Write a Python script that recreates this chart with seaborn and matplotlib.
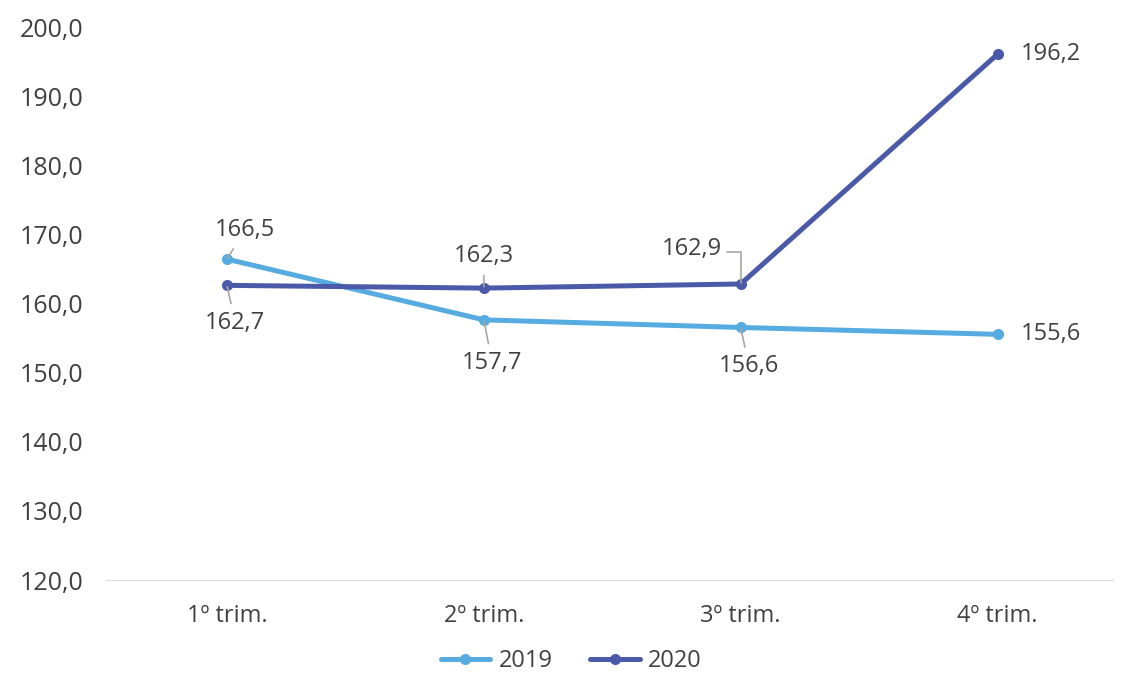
import pandas as pd
import matplotlib.pyplot as plt
import matplotlib.ticker as mticker
import seaborn as sns

# Dados
trimestres = ['1º trim.', '2º trim.', '3º trim.', '4º trim.']
valores_2019 = [166.5, 157.7, 156.6, 155.6]
valores_2020 = [162.7, 162.3, 162.9, 196.2]
anos = ['2019', '2020']
cores = {'2019': '#56ACE0', '2020': '#4A5AA8'}

df = pd.DataFrame({
    'trimestre': trimestres * 2,
    'valor': valores_2019 + valores_2020,
    'ano': [anos[0]] * 4 + [anos[1]] * 4,
})

sns.set_style('white')
plt.rcParams['font.family'] = ['Open Sans', 'DejaVu Sans']
texto = '#404040'
fs = 17

fig = plt.figure(figsize=(11.26, 6.79), dpi=100)
ax = fig.add_axes([0.0875, 0.1458, 0.9125, 0.813])

sns.lineplot(data=df, x='trimestre', y='valor', hue='ano', palette=cores,
             marker='o', markersize=8, markeredgewidth=0, linewidth=3.6,
             ax=ax, sort=False)

ax.set_xlim(-0.5, 3.5)
ax.set_ylim(120, 200)
ax.set_yticks(range(120, 201, 10))
ax.yaxis.set_major_formatter(mticker.FuncFormatter(lambda v, p: f'{v:.1f}'.replace('.', ',')))
ax.set_xlabel('')
ax.set_ylabel('')
ax.tick_params(axis='x', labelsize=fs, colors=texto, length=0, pad=17)
ax.tick_params(axis='y', labelsize=18, colors=texto, length=0, pad=11)
for s in ['top', 'right', 'left']:
    ax.spines[s].set_visible(False)
ax.spines['bottom'].set_color('#D9D9D9')
ax.spines['bottom'].set_bounds(-0.47, 3.45)

# Rótulos de dados: (deslocamento x, y em pontos, alinhamento)
def fmt(v):
    return f'{v:.1f}'.replace('.', ',')

seta = dict(arrowstyle='-', color='#A6A6A6', lw=1.2, shrinkA=3, shrinkB=1)
pos_2019 = [(13, 21, 'center'), (6, -31, 'center'), (6, -28, 'center'), (17, 0, 'left')]
pos_2020 = [(6, -27, 'center'), (0, 23, 'center'), (-35, 25, 'center'), (17, 0, 'left')]

for i, (v, (dx, dy, ha)) in enumerate(zip(valores_2019, pos_2019)):
    ax.annotate(fmt(v), xy=(i, v), xytext=(dx, dy), textcoords='offset points',
                ha=ha, va='center', fontsize=fs, color=texto,
                arrowprops=seta if ha == 'center' else None)

for i, (v, (dx, dy, ha)) in enumerate(zip(valores_2020, pos_2020)):
    if i == 2:
        # rótulo com linha em cotovelo
        ax.annotate(fmt(v), xy=(i, v), xytext=(dx, dy), textcoords='offset points',
                    ha='center', va='center', fontsize=fs, color=texto)
        ax.annotate('', xy=(i, v), xytext=(-10, 23), textcoords='offset points',
                    arrowprops=dict(arrowstyle='-', color='#A6A6A6', lw=1.2,
                                    shrinkA=0, shrinkB=1,
                                    connectionstyle='angle,angleA=0,angleB=90,rad=0'))
        continue
    ax.annotate(fmt(v), xy=(i, v), xytext=(dx, dy), textcoords='offset points',
                ha=ha, va='center', fontsize=fs, color=texto,
                arrowprops=seta if ha == 'center' else None)

leg = ax.legend(loc='upper center', bbox_to_anchor=(0.46, -0.095), ncol=2,
                frameon=False, fontsize=fs, handlelength=2.1, columnspacing=1.6,
                handletextpad=0.35, borderpad=0.2)
for t in leg.get_texts():
    t.set_color(texto)

fig.savefig('out.png', dpi=100)
